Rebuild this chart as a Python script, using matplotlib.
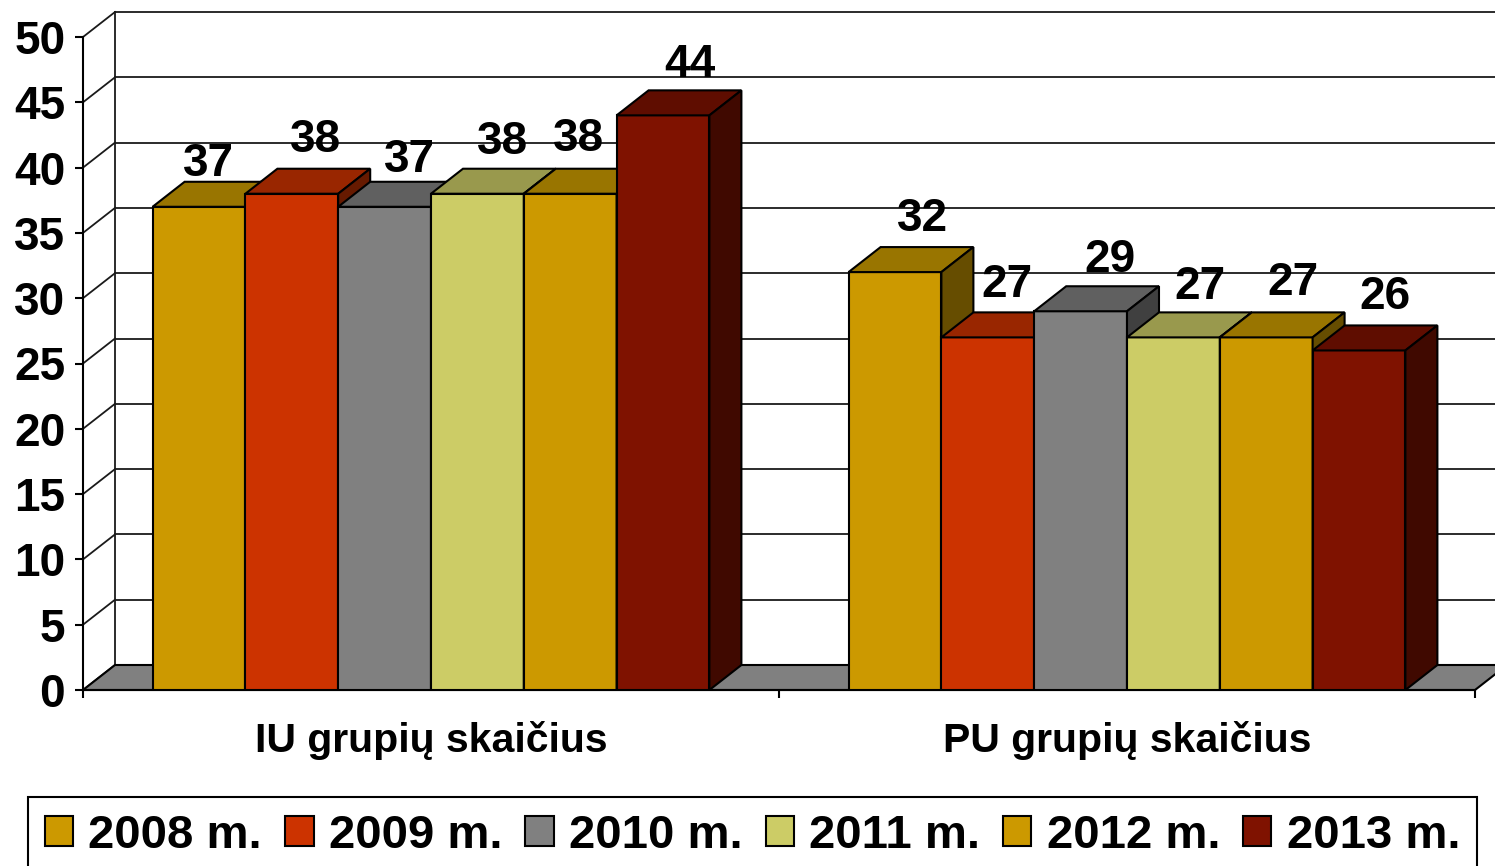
import matplotlib
matplotlib.use('Agg')
import matplotlib.pyplot as plt
from matplotlib.patches import Polygon, Patch

# ---------------- data ----------------
categories = ['IU grupių skaičius', 'PU grupių skaičius']
series_names = ['2008 m.', '2009 m.', '2010 m.', '2011 m.', '2012 m.', '2013 m.']
iu_values = [37, 38, 37, 38, 38, 44]
pu_values = [32, 27, 29, 27, 27, 26]
y_ticks = [0, 5, 10, 15, 20, 25, 30, 35, 40, 45, 50]

# ---------------- style ----------------
front_colors = ['#CC9900', '#CC3300', '#808080', '#CCCC66', '#CC9900', '#7F1200']
top_colors = ['#997500', '#992600', '#606060', '#99994D', '#997500', '#5F0D00']
side_colors = ['#664D00', '#661A00', '#404040', '#666633', '#664D00', '#400900']
# small label nudges (pixels) reproducing the label placement of the original
label_nudge_x = [[-17, -2, -1, -1, -18, 1], [2, -7, 3, 1, 1, 0]]
label_nudge_y = [[-9, 2, -5, 0, 3, -2], [1, 0, -1, -2, 2, 1]]

plt.rcParams['font.family'] = ['Liberation Sans', 'DejaVu Sans']
plt.rcParams['font.weight'] = 'bold'

W, H = 1495, 866
fig = plt.figure(figsize=(W / 100, H / 100), dpi=100)
ax = fig.add_axes([83 / W, 176 / H, 1392 / W, 653 / H])
ncat = len(categories)
ymax = y_ticks[-1]
ax.set_xlim(0, ncat)
ax.set_ylim(0, ymax)

DEPTH_X_PX, DEPTH_Y_PX = 32, 25
dxd = DEPTH_X_PX / 1392 * ncat
dyd = DEPTH_Y_PX / 653 * ymax

LW = 1.5
GLW = 1.3
GCOL = '#1a1a1a'
# side wall diagonals and back wall gridlines
for v in y_ticks:
    ax.plot([0, dxd], [v, v + dyd], color=GCOL, lw=GLW, clip_on=False, zorder=1)
    ax.plot([dxd, ncat + 2 * dxd], [v + dyd, v + dyd], color=GCOL, lw=GLW,
            clip_on=False, zorder=1)
ax.plot([dxd, dxd], [dyd, ymax + dyd], color=GCOL, lw=GLW, clip_on=False, zorder=1)

# floor
floor = Polygon([(0, 0), (ncat, 0), (ncat + dxd, dyd), (dxd, dyd)], closed=True,
                facecolor='#808080', edgecolor='black', lw=LW, clip_on=False, zorder=2)
ax.add_patch(floor)

nser = len(series_names)
w = 1 / (nser + 1.5)
groups = [iu_values, pu_values]
for g, vals in enumerate(groups):
    for i, v in enumerate(vals):
        xl = g + 0.75 * w + i * w
        z = 3 + i * 0.1
        ax.bar([xl], [v], width=w, align='edge', color=front_colors[i],
               edgecolor='black', lw=LW, zorder=z)
        top = Polygon([(xl, v), (xl + w, v), (xl + w + dxd, v + dyd), (xl + dxd, v + dyd)],
                      closed=True, facecolor=top_colors[i], edgecolor='black', lw=LW,
                      clip_on=False, zorder=z)
        side = Polygon([(xl + w, 0), (xl + w, v), (xl + w + dxd, v + dyd), (xl + w + dxd, dyd)],
                       closed=True, facecolor=side_colors[i], edgecolor='black', lw=LW,
                       clip_on=False, zorder=z)
        ax.add_patch(top)
        ax.add_patch(side)
        ax.annotate(str(v), xy=(xl + w / 2, v + dyd),
                    xytext=(26 + label_nudge_x[g][i], 15 + label_nudge_y[g][i]),
                    textcoords='offset pixels', ha='center', va='baseline',
                    fontsize=33, fontweight='bold', color='black', zorder=10,
                    annotation_clip=False)

# axes styling
for s in ['top', 'right']:
    ax.spines[s].set_visible(False)
for s in ['left', 'bottom']:
    ax.spines[s].set_linewidth(LW)
    ax.spines[s].set_zorder(2.5)
ax.set_yticks(y_ticks)
ax.set_yticklabels([str(t) for t in y_ticks], fontsize=33, fontweight='bold')
ax.tick_params(axis='y', length=5.8, width=LW, pad=7)
ax.set_xticks([c + 0.5 for c in range(ncat)])
ax.set_xticklabels(categories, fontsize=29.5, fontweight='bold')
ax.tick_params(axis='x', which='major', length=0, pad=22)
ax.set_xticks(list(range(ncat + 1)), minor=True)
ax.tick_params(axis='x', which='minor', length=5.8, width=LW, direction='out')

# legend
handles = [Patch(facecolor=front_colors[i], edgecolor='black', lw=LW) for i in range(nser)]
leg = fig.legend(handles, series_names, ncol=nser, loc='upper left',
                 bbox_to_anchor=(28 / W, 1 - 797 / H), borderaxespad=0,
                 prop={'size': 34, 'weight': 'bold'}, frameon=True, fancybox=False,
                 edgecolor='black', handlelength=0.6, handleheight=0.6,
                 handletextpad=0.32, columnspacing=0.49, borderpad=0.36)
leg.get_frame().set_linewidth(LW)
leg.get_frame().set_alpha(1)

fig.savefig('out.png', dpi=100, facecolor='white')
